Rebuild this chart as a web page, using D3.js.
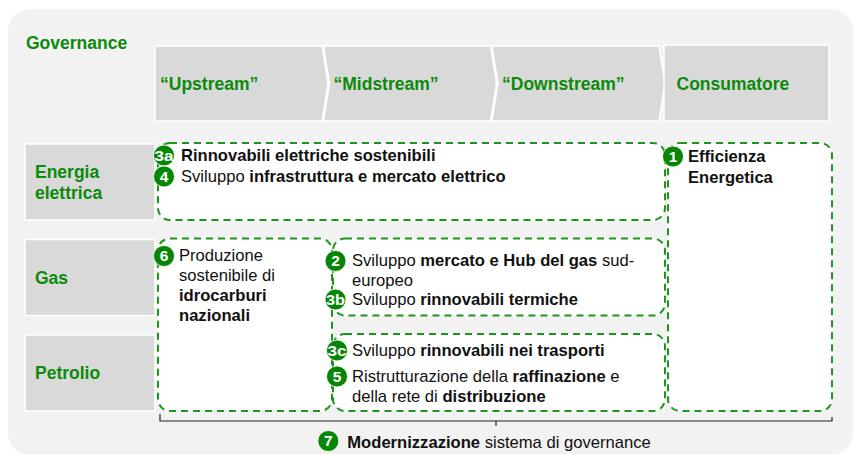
<!DOCTYPE html>
<meta charset="utf-8">
<head>
  <style>
    body { margin: 0; background: #fff; }
    svg { display: block; font-family: Arial, "Liberation Sans", sans-serif; }
  </style>
</head>
<body>
<div id="chart"></div>
<script src="https://d3js.org/d3.v7.min.js"></script>
<script>

var title = "Governance";
var stages = ["\u201CUpstream\u201D", "\u201CMidstream\u201D", "\u201CDownstream\u201D", "Consumatore"];
var sectors = [["Energia", "elettrica"], ["Gas"], ["Petrolio"]];

// each box covers columns [c0, c1] and rows [r0, r1]
var boxes = [
  { key: "ee",   c0: 0, c1: 2, r0: 0, r1: 0 },
  { key: "eff",  c0: 3, c1: 3, r0: 0, r1: 2 },
  { key: "prod", c0: 0, c1: 0, r0: 1, r1: 2 },
  { key: "gas",  c0: 1, c1: 2, r0: 1, r1: 1 },
  { key: "pet",  c0: 1, c1: 2, r0: 2, r1: 2 }
];

// lines are lists of [text, bold] pieces
var actions = [
  { id: "3a", box: "ee",   lines: [[["Rinnovabili elettriche sostenibili", 1]]] },
  { id: "4",  box: "ee",   lines: [[["Sviluppo ", 0], ["infrastruttura e mercato elettrico", 1]]] },
  { id: "1",  box: "eff",  lines: [[["Efficienza", 1]], [["Energetica", 1]]] },
  { id: "6",  box: "prod", lines: [[["Produzione", 0]], [["sostenibile di", 0]], [["idrocarburi", 1]], [["nazionali", 1]]] },
  { id: "2",  box: "gas",  lines: [[["Sviluppo ", 0], ["mercato e Hub del gas", 1], [" sud-", 0]], [["europeo", 0]]] },
  { id: "3b", box: "gas",  lines: [[["Sviluppo ", 0], ["rinnovabili termiche", 1]]] },
  { id: "3c", box: "pet",  lines: [[["Sviluppo ", 0], ["rinnovabili nei trasporti", 1]]] },
  { id: "5",  box: "pet",  lines: [[["Ristrutturazione della ", 0], ["raffinazione", 1], [" e", 0]], [["della rete di ", 0], ["distribuzione", 1]]] }
];
var governance = { id: "7", line: [["Modernizzazione", 1], [" sistema di governance", 0]] };

var W = 861, H = 454;
var green = "#0b8a0b", circleGreen = "#068606", dashGreen = "#1f951f";

var svg = d3.select("#chart").append("svg").attr("width", W).attr("height", H);

// background panel
svg.append("rect").attr("x", 8).attr("y", 9).attr("width", 845).attr("height", 446)
  .attr("rx", 22).attr("fill", "#f2f2f2");

svg.append("text").attr("x", 26).attr("y", 49).attr("fill", green)
  .attr("font-size", 17.5).attr("font-weight", "bold").text(title);

var x = d3.scaleBand().domain(d3.range(stages.length)).range([155, 829]);
var y = d3.scaleBand().domain(d3.range(sectors.length)).range([144, 411]).paddingInner(0.204);

// header chevrons
var hTop = 46, hBot = 121, hMid = (hTop + hBot) / 2, tip = 6;
stages.forEach(function(s, i) {
  var x0 = x(i), x1 = x(i) + x.bandwidth();
  var d;
  if (i == stages.length - 1) {
    d = "M" + (x0 + 3.5) + "," + (hTop - 1) + "H" + x1 + "V" + hBot + "H" + (x0 + 3.5) + "Z";
  } else {
    x1 -= 1.5;
    d = "M" + x0 + "," + hTop + "H" + x1 + "L" + (x1 + tip) + "," + hMid + "L" + x1 + "," + hBot + "H" + x0;
    d += i == 0 ? "Z" : "L" + (x0 + tip) + "," + hMid + "Z";
  }
  svg.append("path").attr("d", d).attr("fill", "#d9d9d9").attr("stroke", "#fff").attr("stroke-width", 1.5);
  svg.append("text").attr("x", x0 + (i == 0 ? 5 : i == 3 ? 16 : 10)).attr("y", 90)
    .attr("fill", green).attr("font-size", 17.5).attr("font-weight", "bold").text(s);
});

// sector labels
sectors.forEach(function(lines, i) {
  var y0 = y(i), h = y.bandwidth();
  svg.append("rect").attr("x", 25).attr("y", y0).attr("width", 130).attr("height", h)
    .attr("fill", "#d9d9d9").attr("stroke", "#fff").attr("stroke-width", 1.5);
  var t = svg.append("text").attr("fill", green).attr("font-size", 17.5).attr("font-weight", "bold");
  var first = y0 + h / 2 + 6 - (lines.length - 1) * 10.5;
  lines.forEach(function(l, j) {
    t.append("tspan").attr("x", 35).attr("y", first + j * 21).text(l);
  });
});

// dashed boxes
function boxLeft(c) { return x(c) + (c == 0 ? 3 : c == 3 ? 7.5 : 9.5); }
function boxRight(c) { return c == 3 ? x(c) + x.bandwidth() + 3 : x(c + 1) + (c == 0 ? 8.5 : 4.5); }
var boxGeo = {};
boxes.forEach(function(b) {
  var g = {
    x: boxLeft(b.c0), x1: boxRight(b.c1),
    y: y(b.r0) - 1, y1: y(b.r1) + y.bandwidth()
  };
  boxGeo[b.key] = g;
  svg.append("rect").attr("x", g.x).attr("y", g.y).attr("width", g.x1 - g.x).attr("height", g.y1 - g.y)
    .attr("rx", 12).attr("fill", "#fff").attr("stroke", dashGreen).attr("stroke-width", 2)
    .attr("stroke-dasharray", "7,5");
});

// text layout inside each box: first baseline offset, line step, gap between actions, text inset
var boxText = {
  ee:   { top: 18, step: 21, gap: 0, inset: 23, cx: 5 },
  eff:  { top: 19, step: 21, gap: 0, inset: 20, cx: 4 },
  prod: { top: 23, step: 20, gap: 0, inset: 21, cx: 5 },
  gas:  { top: 28, step: 19.3, gap: 0, inset: 19, cx: 1.5 },
  pet:  { top: 22, step: 20, gap: 6, inset: 19, cx: 3 }
};

function writeLine(sel, xPos, yPos, pieces, size) {
  var t = sel.append("text").attr("x", xPos).attr("y", yPos).attr("font-size", size).attr("fill", "#111");
  pieces.forEach(function(p) {
    t.append("tspan").attr("font-weight", p[1] ? "bold" : "normal").text(p[0]);
  });
  return t;
}

function badge(cx, cy, label) {
  svg.append("circle").attr("cx", cx).attr("cy", cy).attr("r", 10.5).attr("fill", circleGreen)
    .attr("stroke", "#fff").attr("stroke-width", 0.8);
  var t = svg.append("text").attr("x", cx).attr("y", cy + 5.3).attr("text-anchor", "middle")
    .attr("fill", "#fff").attr("font-size", 15.5).attr("font-weight", "bold").text(label);
  if (label.length > 1) t.attr("textLength", 19).attr("lengthAdjust", "spacingAndGlyphs");
}

var cursor = {};
actions.forEach(function(a) {
  var g = boxGeo[a.box], L = boxText[a.box];
  var yy = cursor[a.box] === undefined ? g.y + L.top : cursor[a.box] + L.gap;
  badge(g.x + L.cx + 1, yy - 5.5, a.id);
  a.lines.forEach(function(line, j) {
    writeLine(svg, g.x + L.inset, yy, line, 16.6);
    cursor[a.box] = yy + L.step;
    yy += L.step;
  });
});

// governance bracket
var bx0 = boxGeo.ee.x + 2, bx1 = boxGeo.eff.x1, by = 421, bmid = x(2) + 4;
svg.append("path")
  .attr("d", "M" + bx0 + "," + (by - 7) + "V" + by + "H" + bx1 + "V" + (by - 4) + "M" + bmid + "," + by + "V" + (by + 5))
  .attr("fill", "none").attr("stroke", "#222").attr("stroke-width", 1.2);

var gt = writeLine(svg, bmid + 3, 448, governance.line, 16.6).attr("text-anchor", "middle");
var gb = gt.node().getBBox();
badge(gb.x - 19, 441, governance.id);

</script>
</body>
